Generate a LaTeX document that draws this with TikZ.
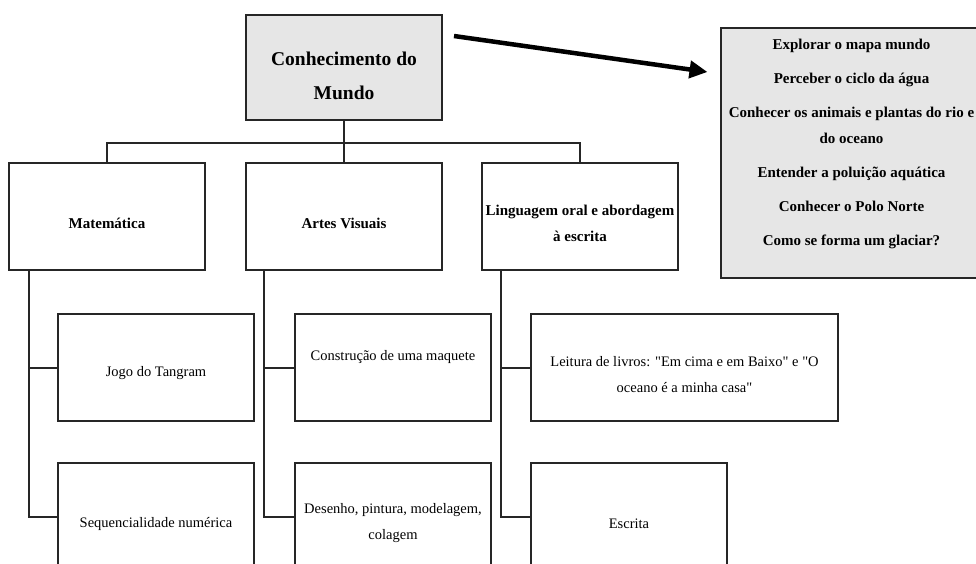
\documentclass[tikz,border=0pt]{standalone}
\usepackage{fontspec}
\setmainfont{Liberation Serif}
\usetikzlibrary{arrows.meta,calc}
\definecolor{boxgray}{HTML}{E6E6E6}
\definecolor{linecol}{HTML}{262626}
\begin{document}
\begin{tikzpicture}[x=1pt,y=-1pt,
  box/.style={draw=linecol, line width=2pt, rectangle, inner sep=0pt, minimum width=196pt, minimum height=107pt},
  graybox/.style={box, fill=boxgray},
  conn/.style={draw=linecol, line width=2pt},
  txt/.style={align=center, inner sep=0pt, font=\fontsize{14.5}{26}\selectfont},
  btxt/.style={align=center, inner sep=0pt, font=\fontsize{15}{26}\selectfont\bfseries},
  ttxt/.style={align=center, inner sep=0pt, font=\fontsize{19.5}{34}\selectfont\bfseries}
]
\useasboundingbox (0,0) rectangle (976,563);
\begin{scope}
\clip (0,0) rectangle (976,563);
% boxes
\node[graybox, minimum height=105pt] (top) at (344,67.5) {};
\node[graybox, minimum width=262pt, minimum height=250pt] (right) at (851.5,153) {};
\node[box] (mat) at (107,216.5) {};
\node[box] (art) at (344,216.5) {};
\node[box] (lin) at (580,216.5) {};
\node[box] (jogo) at (156,367.5) {};
\node[box] (seq) at (156,516.5) {};
\node[box] (cons) at (393,367.5) {};
\node[box] (des) at (393,516.5) {};
\node[box, minimum width=307pt] (lei) at (684.5,367.5) {};
\node[box] (esc) at (629,516.5) {};
% texts
\node[ttxt] (topT) at ([yshift=-8pt]top.center) {Conhecimento do\\Mundo};
\node[btxt] (rightT) at (851.5,144) {Explorar o mapa mundo\\[8pt]Perceber o ciclo da água\\[8pt]Conhecer os animais e plantas do rio e\\do oceano\\[8pt]Entender a poluição aquática\\[8pt]Conhecer o Polo Norte\\[8pt]Como se forma um glaciar?};
\node[btxt] (matT) at ([yshift=-7pt]mat.center) {Matemática};
\node[btxt] (artT) at ([yshift=-7pt]art.center) {Artes Visuais};
\node[btxt] (linT) at ([yshift=-7pt]lin.center) {Linguagem oral e abordagem\\à escrita};
\node[txt] (jogoT) at ([yshift=-6pt]jogo.center) {Jogo do Tangram};
\node[txt] (seqT) at ([yshift=-7pt]seq.center) {Sequencialidade numérica};
\node[txt] (consT) at ([yshift=10pt]cons.center) {Construção de uma maquete};
\node[txt] (desT) at ([yshift=-7pt]des.center) {Desenho, pintura, modelagem,\\colagem};
\node[txt] (leiT) at ([yshift=-7pt]lei.center) {Leitura de livros: \textquotedbl Em cima e em Baixo\textquotedbl{} e \textquotedbl O\\oceano é a minha casa\textquotedbl};
\node[txt] (escT) at ([yshift=-7pt]esc.center) {Escrita};
% hierarchy connectors
\coordinate (bus) at (344,143);
\draw[conn] (top.south) -- (art.north);
\draw[conn] (mat.north) |- (bus) -| (lin.north);
\draw[conn] ([xshift=21pt]mat.south west) |- (jogo.west);
\draw[conn] ([xshift=21pt]mat.south west) |- (seq.west);
\draw[conn] ([xshift=19pt]art.south west) |- (cons.west);
\draw[conn] ([xshift=19pt]art.south west) |- (des.west);
\draw[conn] ([xshift=20pt]lin.south west) |- (lei.west);
\draw[conn] ([xshift=20pt]lin.south west) |- (esc.west);
% arrow
\coordinate (arrS) at ([xshift=11pt,yshift=-22pt]top.north east);
\coordinate (arrE) at ([xshift=-12pt,yshift=-45pt]right.north west);
\draw[draw=black, line width=4.5pt, -{Triangle[length=18pt,width=17pt]}] (arrS) -- (arrE);
\end{scope}
\end{tikzpicture}
\end{document}
